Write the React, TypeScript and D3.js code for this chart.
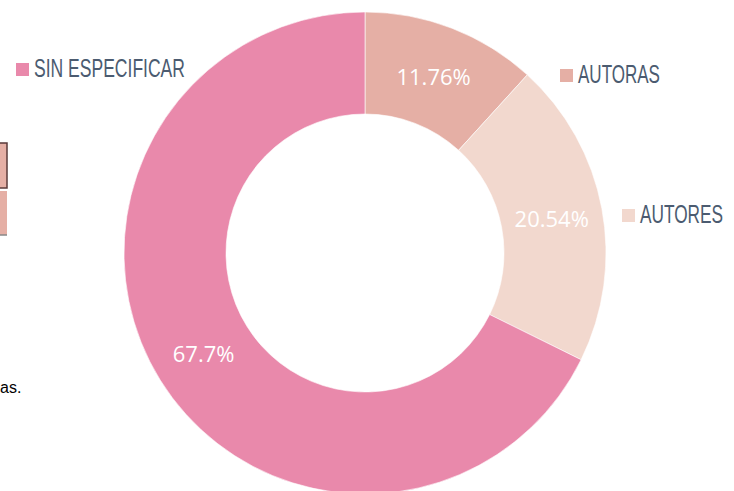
import React from "react";
import * as d3 from "d3";

// data
const categories = ["AUTORAS", "AUTORES", "SIN ESPECIFICAR"];
const values = [11.76, 20.54, 67.7];
const colors = ["#E5AFA5", "#F2D8CE", "#E989AB"];

// where each category name sits (legend-style labels next to the ring)
const labelPos: { [k: string]: [number, number, number] } = {
  AUTORAS: [560, 69, 82],
  AUTORES: [622, 209, 83],
  "SIN ESPECIFICAR": [16, 63, 151],
};

const W = 734;
const H = 491;

export default function App() {
  const cx = 365;
  const cy = 253;
  const outerR = 241;
  const innerR = 139;

  const pie = d3
    .pie<number>()
    .sort(null)
    .value((d) => d);
  const arcs = pie(values);

  const arc = d3
    .arc<d3.PieArcDatum<number>>()
    .innerRadius(innerR)
    .outerRadius(outerR);

  const sy = 1.32; // labels are drawn in a tall, narrow face

  return (
    <svg
      width={W}
      height={H}
      style={{ position: "absolute", left: 0, top: 0, background: "#fff" }}
    >
      {/* bits of the neighbouring page content, cut off at the left edge */}
      <rect x={-20} y={143} width={27} height={45} fill="#E5AFA5" stroke="#5a3a3a" strokeWidth={1.5} />
      <rect x={-20} y={191} width={27} height={44} fill="#E5AFA5" />
      <line x1={0} x2={7} y1={235} y2={235} stroke="#888" strokeWidth={1.5} />
      <text x={0} y={393} fontFamily="Liberation Sans, Arial" fontSize={16} fill="#000">
        as.
      </text>

      <g transform={`translate(${cx},${cy})`}>
        {arcs.map((a, i) => (
          <path key={categories[i]} d={arc(a) || ""} fill={colors[i]} stroke="#fff" strokeWidth={0.6} />
        ))}
        {arcs.map((a, i) => {
          const [x, y] = arc.centroid(a);
          return (
            <text
              key={"v" + i}
              x={x}
              y={y}
              textAnchor="middle"
              dominantBaseline="central"
              fontFamily="Open Sans, sans-serif"
              fontSize={22}
              fill="#fff"
            >
              {values[i] + "%"}
            </text>
          );
        })}
      </g>

      {categories.map((c, i) => {
        const [x, y, len] = labelPos[c];
        return (
          <g key={"l" + c} transform={`translate(${x},${y})`}>
            <rect x={0} y={0} width={13} height={13} fill={colors[i]} />
            <text
              x={18}
              y={14 / sy}
              transform={`scale(1,${sy})`}
              fontFamily="Liberation Sans, Arial, sans-serif"
              fontSize={19}
              textLength={len}
              lengthAdjust="spacingAndGlyphs"
              fill="#4B5B70"
            >
              {c}
            </text>
          </g>
        );
      })}
    </svg>
  );
}
